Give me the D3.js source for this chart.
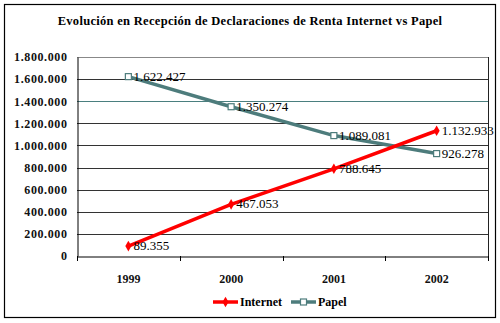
<!DOCTYPE html>
<html><head><meta charset="utf-8">
<script src="https://cdn.jsdelivr.net/npm/d3@7"></script>
<style>body{margin:0;background:#fff}svg{display:block}</style>
</head><body>
<svg id="c" width="500" height="323"></svg>
<script>
const title = "Evolución en Recepción de Declaraciones de Renta Internet vs Papel";
const years = ["1999", "2000", "2001", "2002"];
const internet = [89355, 467053, 788645, 1132933];
const papel = [1622427, 1350274, 1089081, 926278];
const yTicks = [0, 200000, 400000, 600000, 800000, 1000000, 1200000, 1400000, 1600000, 1800000];
const seriesNames = ["Internet", "Papel"];

const svg = d3.select("#c");
const serif = "'Liberation Serif','Times New Roman',serif";
const fmt = v => d3.format(",")(v).replace(/,/g, ".");

svg.append("rect").attr("x", 4.5).attr("y", 4.5).attr("width", 491).attr("height", 313)
  .attr("fill", "#fff").attr("stroke", "#000").attr("stroke-width", 1.2);

svg.append("text").attr("x", 250).attr("y", 25).attr("text-anchor", "middle")
  .attr("font-family", serif).attr("font-size", 12.5).attr("letter-spacing", 0.3).attr("font-weight", "bold").text(title);

const L = 77, R = 488, T = 57, B = 256;
const x = d3.scaleBand().domain(years).range([L, R]);
const y = d3.scaleLinear().domain([0, 1800000]).range([B, T]);

// gridlines
svg.append("g").selectAll("line").data(yTicks.filter(d => d > 0)).join("line")
  .attr("x1", L).attr("x2", R).attr("y1", d => Math.round(y(d)) + 0.5).attr("y2", d => Math.round(y(d)) + 0.5)
  .attr("stroke", d => d === 1400000 ? "#4a7f7f" : (d === 1800000 ? "#888" : "#333"))
  .attr("stroke-width", 1);
// right border
svg.append("line").attr("x1", R + 0.5).attr("x2", R + 0.5).attr("y1", T).attr("y2", B).attr("stroke", "#222");

// y axis
const yAxis = d3.axisLeft(y).tickValues(yTicks).tickSize(0).tickPadding(10).tickFormat(fmt);
const gy = svg.append("g").attr("transform", `translate(${L + 0.5},0)`).call(yAxis);
gy.select(".domain").attr("stroke", "#000");
gy.selectAll("text").attr("font-family", serif).attr("font-size", 12).attr("letter-spacing", 0.6).attr("font-weight", "bold").attr("fill", "#111");

// x axis
const xAxis = d3.axisBottom(x).tickSize(0).tickPadding(18);
const gx = svg.append("g").attr("transform", `translate(0,${B + 0.5})`).call(xAxis);
gx.select(".domain").attr("stroke", "#000");
gx.selectAll("text").attr("font-family", serif).attr("font-size", 12).attr("font-weight", "bold").attr("fill", "#111");
svg.append("g").selectAll("line").data(years.concat([null])).join("line")
  .attr("x1", (d, i) => Math.round(L + i * x.bandwidth()) + 0.5)
  .attr("x2", (d, i) => Math.round(L + i * x.bandwidth()) + 0.5)
  .attr("y1", B).attr("y2", B + 5).attr("stroke", "#000");

const cx = d => x(d) + x.bandwidth() / 2;
const line = d3.line().x((d, i) => cx(years[i])).y(d => y(d));

const cInt = "#ff0000", cPap = "#4d7c7c";
svg.append("path").datum(papel).attr("d", line).attr("fill", "none").attr("stroke", cPap).attr("stroke-width", 3.5);
svg.append("path").datum(internet).attr("d", line).attr("fill", "none").attr("stroke", cInt).attr("stroke-width", 3.5);

// markers
svg.append("g").selectAll("rect").data(papel).join("rect")
  .attr("x", (d, i) => cx(years[i]) - 3).attr("y", d => y(d) - 3).attr("width", 6).attr("height", 6)
  .attr("fill", "#fff").attr("stroke", cPap).attr("stroke-width", 1.2);
svg.append("g").selectAll("path").data(internet).join("path")
  .attr("d", d3.symbol(d3.symbolDiamond, 32))
  .attr("transform", (d, i) => `translate(${cx(years[i])},${y(d)})`).attr("fill", cInt);

// labels
const addLabels = (arr) => svg.append("g").selectAll("text").data(arr).join("text")
  .attr("x", (d, i) => cx(years[i]) + 5).attr("y", d => y(d) + 4)
  .attr("font-family", serif).attr("font-size", 13).attr("fill", "#000").text(fmt);
addLabels(papel);
addLabels(internet);

// legend
const lg = svg.append("g");
lg.append("line").attr("x1", 213).attr("x2", 238).attr("y1", 302).attr("y2", 302).attr("stroke", cInt).attr("stroke-width", 3.5);
lg.append("path").attr("d", d3.symbol(d3.symbolDiamond, 32)).attr("transform", "translate(225.5,302)").attr("fill", cInt);
lg.append("text").attr("x", 240).attr("y", 306).attr("font-family", serif).attr("font-size", 12).attr("font-weight", "bold").text(seriesNames[0]);
lg.append("line").attr("x1", 291).attr("x2", 316).attr("y1", 302).attr("y2", 302).attr("stroke", cPap).attr("stroke-width", 3.5);
lg.append("rect").attr("x", 300.5).attr("y", 299).attr("width", 6).attr("height", 6).attr("fill", "#fff").attr("stroke", cPap).attr("stroke-width", 1.2);
lg.append("text").attr("x", 318).attr("y", 306).attr("font-family", serif).attr("font-size", 12).attr("font-weight", "bold").text(seriesNames[1]);
</script>
</body></html>
